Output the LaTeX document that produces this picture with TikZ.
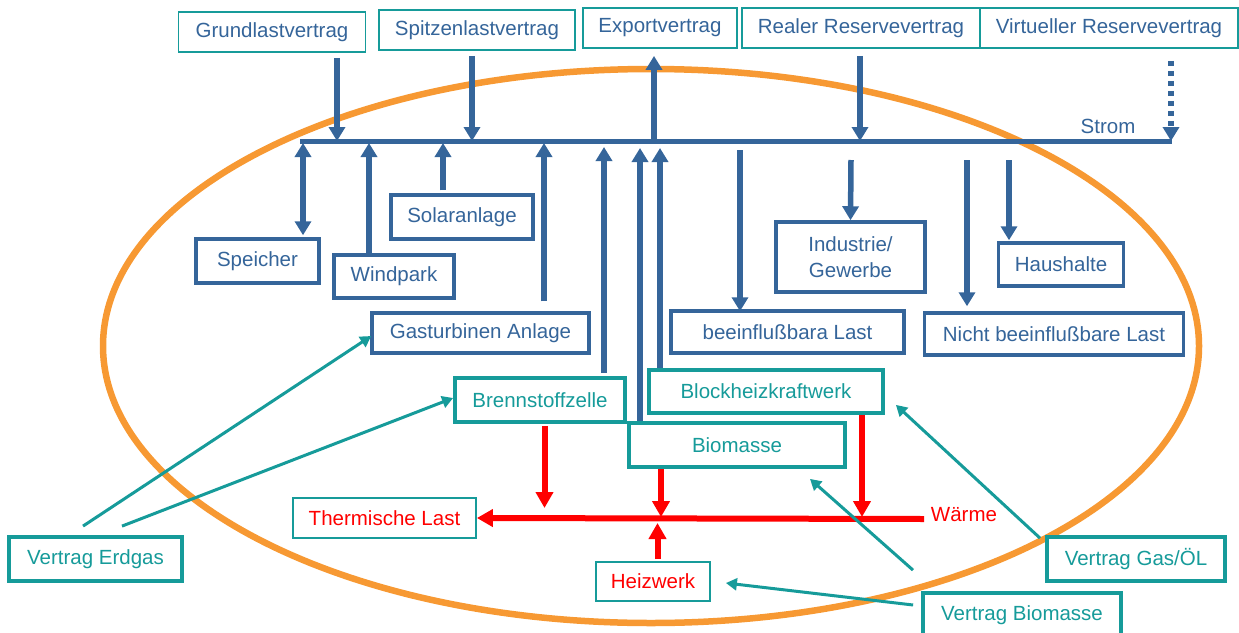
\documentclass[tikz,border=0pt]{standalone}
\usepackage{fontspec}
\setmainfont{Liberation Sans}
\usetikzlibrary{arrows.meta,calc}
\definecolor{strblue}{HTML}{35659A}
\definecolor{vtteal}{HTML}{169B9A}
\definecolor{heatred}{HTML}{FF0000}
\definecolor{rimorange}{HTML}{F79933}

\begin{document}
\begin{tikzpicture}[x=1pt,y=-1pt,
  every node/.style={font=\fontsize{20.5}{26}\selectfont,inner sep=0pt,align=center},
  contract/.style={draw=vtteal,line width=1.8pt,fill=white,text=strblue},
  unit/.style={draw=strblue,line width=3.5pt,fill=white,text=strblue},
  plant/.style={draw=vtteal,line width=3.8pt,fill=white,text=vtteal},
  heatbox/.style={draw=vtteal,line width=1.8pt,fill=white,text=heatred},
  flow/.style={draw=strblue,line width=5.5pt,-{Triangle[width=16pt,length=14pt]}},
  heat/.style={draw=heatred,line width=6pt,-{Triangle[width=17pt,length=16pt]}},
  supply/.style={draw=vtteal,line width=3pt,-{Triangle[width=12pt,length=11pt]}}]
\useasboundingbox (0,0) rectangle (1239,632);

% system boundary
\draw[rimorange,line width=6.5pt] (651,346) ellipse [x radius=548pt,y radius=277pt];

% contracts
\node[contract,minimum width=187pt,minimum height=40pt] (grund) at (272,32) {Grundlastvertrag};
\node[contract,minimum width=196pt,minimum height=40pt] (spitze) at (477,30) {Spitzenlastvertrag};
\node[contract,minimum width=154pt,minimum height=40pt] (export) at (660,28) {Exportvertrag};
\node[contract,minimum width=238pt,minimum height=40pt] (realres) at (861,28) {Realer Reservevertrag};
\node[contract,minimum width=258pt,minimum height=40pt] (virtres) at (1109,28) {Virtueller Reservevertrag};

% electricity bus
\coordinate (bus) at (300,141);
\coordinate (busend) at (1172,141);
\draw[strblue,line width=5pt] (bus) -- (busend);
\node[text=strblue] (strom) at (1108,126) {Strom};

\draw[flow] ($(grund.south)+(65,5)$) -- ($(grund.south |- bus)+(65,0)$);
\draw[flow] ($(spitze.south)+(-5,5)$) -- ($(spitze.south |- bus)+(-5,0)$);
\draw[flow] ($(export.south |- bus)+(-6,0)$) -- ($(export.south)+(-6,7)$);
\draw[flow] ($(realres.south)+(-1,7)$) -- ($(realres.south |- bus)+(-1,0)$);
\draw[flow,dash pattern=on 5pt off 5pt] ($(virtres.south)+(62,12)$) -- ($(virtres.south |- bus)+(62,0)$);

% producers and loads
\node[unit,minimum width=123pt,minimum height=44pt] (speicher) at (257.5,261) {Speicher};
\node[unit,minimum width=120pt,minimum height=43pt] (windpark) at (394,276.5) {Windpark};
\node[unit,minimum width=142pt,minimum height=44pt] (solar) at (462,217) {Solaranlage};
\node[unit,minimum width=217pt,minimum height=40pt] (gasturb) at (480.5,333) {Gasturbinen Anlage};
\node[plant,minimum width=170pt,minimum height=44pt] (brenn) at (540,400) {Brennstoffzelle};
\node[plant,minimum width=234pt,minimum height=43pt] (bhkw) at (766,391.5) {Blockheizkraftwerk};
\node[plant,minimum width=216pt,minimum height=44pt] (biom) at (737,445) {Biomasse};
\node[unit,minimum width=149pt,minimum height=70pt] (industrie) at (850.5,257) {Industrie/\\Gewerbe};
\node[unit,minimum width=125pt,minimum height=43pt] (haushalte) at (1061,264.5) {Haushalte};
\node[unit,minimum width=233pt,minimum height=42pt] (beeinfl) at (787.5,332) {beeinflußbara Last};
\node[unit,minimum width=259pt,minimum height=42pt] (nicht) at (1054,334) {Nicht beeinflußbare Last};

\draw[flow,{Triangle[width=16pt,length=14pt]}-{Triangle[width=16pt,length=14pt]}] ($(speicher.north)+(45.5,-2)$) -- ($(speicher.north |- bus)+(45.5,2)$);
\draw[flow] ($(windpark.north)+(-25,0)$) -- ($(windpark.north |- bus)+(-25,2)$);
\draw[flow] ($(solar.north)+(-19,-3)$) -- ($(solar.north |- bus)+(-19,2)$);
\draw[flow] ($(gasturb.north)+(63.5,-10)$) -- ($(gasturb.north |- bus)+(63.5,2)$);
\draw[flow] ($(brenn.north)+(64,-3)$) -- ($(brenn.north |- bus)+(64,6)$);
\draw[flow] ($(biom.north)+(-97,0)$) -- ($(biom.north |- bus)+(-97,7)$);
\draw[flow] ($(bhkw.north)+(-106,0)$) -- ($(bhkw.north |- bus)+(-106,7)$);
\draw[flow] ($(beeinfl.north |- bus)+(-47.5,9)$) -- ($(beeinfl.north)+(-47.5,2)$);
\draw[flow] ($(industrie.north |- bus)+(0.5,19)$) -- (industrie.north);
\draw[flow] ($(nicht.north |- bus)+(-87,19)$) -- ($(nicht.north)+(-87,-5)$);
\draw[flow] ($(haushalte.north |- bus)+(-52,19)$) -- ($(haushalte.north)+(-52,-1)$);

% heat
\node[heatbox,minimum width=183pt,minimum height=40pt] (therm) at (384.5,518) {Thermische Last};
\node[heatbox,minimum width=114pt,minimum height=39pt] (heizwerk) at (653,581.5) {Heizwerk};
\node[text=heatred] (waerme) at (964,515) {Wärme};
\coordinate (wend) at (924,519);
\draw[heat] (wend) -- (therm.east);
\draw[heat] ($(brenn.south)+(4.5,2)$) -- ($(brenn.south |- wend)+(4.5,-11)$);
\draw[heat] ($(biom.south)+(-76,0)$) -- ($(biom.south |- wend)+(-76,-2)$);
\draw[heat] ($(bhkw.south)+(96,0)$) -- ($(bhkw.south |- wend)+(96,-2)$);
\draw[heat] ($(heizwerk.north)+(4.5,-2)$) -- ($(heizwerk.north |- wend)+(4.5,4)$);

% fuel contracts
\node[plant,text=vtteal,minimum width=173pt,minimum height=44pt] (erdgas) at (95.5,559) {Vertrag Erdgas};
\node[plant,text=vtteal,minimum width=178pt,minimum height=44pt] (gasoel) at (1136,559) {Vertrag Gas/ÖL};
\node[plant,text=vtteal,minimum width=198pt,minimum height=44pt] (vbio) at (1022,615) {Vertrag Biomasse};

\draw[supply] ($(erdgas.north)+(-12.5,-9)$) -- ($(gasturb.west)+(1,3)$);
\draw[supply] ($(erdgas.north)+(26.5,-9)$) -- ($(brenn.west)+(0,-2)$);
\draw[supply] ($(gasoel.north)+(-96,3)$) -- ($(bhkw.south east)+(11,-10)$);
\draw[supply] ($(vbio.north)+(-109,-21)$) -- ($(biom.south)+(73,10)$);
\draw[supply] ($(vbio.west)+(-8,-10)$) -- ($(heizwerk.east)+(15,1.5)$);
\end{tikzpicture}
\end{document}
